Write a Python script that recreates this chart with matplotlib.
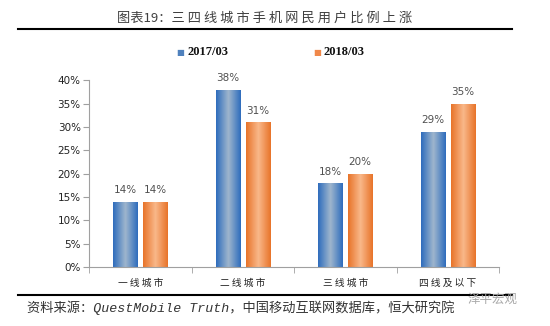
import numpy as np
import matplotlib
matplotlib.use('Agg')
import matplotlib.pyplot as plt
from matplotlib.colors import LinearSegmentedColormap

# dati
categorie = ['一 线 城 市', '二 线 城 市', '三 线 城 市', '四 线 及 以 下']
serie = ['2017/03', '2018/03']
val_2017 = [14, 38, 18, 29]
val_2018 = [14, 31, 20, 35]
yticks = [0, 5, 10, 15, 20, 25, 30, 35, 40]

titolo = '图表19：三 四 线 城 市 手 机 网 民 用 户 比 例 上 涨'
fonte = '资料来源：QuestMobile Truth，中国移动互联网数据库，恒大研究院'

plt.rcParams['font.family'] = ['Noto Sans CJK SC', 'DejaVu Sans']

fig = plt.figure(figsize=(5.5, 3.26), dpi=100)
W, H = 550, 326
ax = fig.add_axes([89 / W, 1 - 267 / H, 410 / W, (267 - 80.5) / H])

cmap_blu = LinearSegmentedColormap.from_list('blu', ['#2f6dbd', '#9fb6cd', '#2f6dbd'])
cmap_ara = LinearSegmentedColormap.from_list('ara', ['#e8742a', '#f9b88a', '#e8742a'])
grad = np.linspace(0, 1, 64).reshape(1, -1)

x = np.arange(len(categorie))
w = 0.235
off = 0.145
for vals, dx, cmap in [(val_2017, -off, cmap_blu), (val_2018, off, cmap_ara)]:
    bars = ax.bar(x + dx, vals, w, color='none', edgecolor='none', zorder=2)
    for b, v in zip(bars, vals):
        x0 = b.get_x()
        im = ax.imshow(grad, extent=[x0, x0 + w, 0, v], aspect='auto', cmap=cmap, zorder=2)
        im.set_clip_path(b)
        ax.text(x0 + w / 2, v + 1.4, f'{v}%', ha='center', va='bottom',
                fontsize=7.5, color='#505050', family='DejaVu Sans')

ax.set_xlim(-0.5, len(categorie) - 0.5)
ax.set_ylim(0, 40)
ax.set_yticks(yticks)
ax.set_yticklabels([f'{t}%' for t in yticks], fontsize=7.5, color='#222222', family='DejaVu Sans')
ax.set_xticks(np.arange(len(categorie) + 1) - 0.5, minor=True)
ax.set_xticks(x)
ax.set_xticklabels(categorie, fontsize=7, color='#222222')
ax.tick_params(axis='x', which='major', length=0, pad=8)
ax.tick_params(axis='x', which='minor', length=4, color='#a0a0a0', direction='out')
ax.tick_params(axis='y', length=4, color='#a0a0a0', direction='out', pad=2)
for s in ['top', 'right']:
    ax.spines[s].set_visible(False)
for s in ['left', 'bottom']:
    ax.spines[s].set_color('#a0a0a0')
    ax.spines[s].set_linewidth(0.8)

# titolo e linee
fig.text(265 / W, 1 - 18 / H, titolo, ha='center', va='center', fontsize=9.5, color='#404040')
fig.add_artist(plt.Line2D([18 / W, 512 / W], [1 - 29 / H, 1 - 29 / H], color='black', lw=1.5))
fig.add_artist(plt.Line2D([18 / W, 512 / W], [1 - 295 / H, 1 - 295 / H], color='black', lw=1.5))

# legenda
for xm, lab, col in [(180, serie[0], '#4f81bd'), (317, serie[1], '#f0884a')]:
    fig.text(xm / W, 1 - 52 / H, '■', ha='center', va='center', fontsize=6, color=col, family='DejaVu Sans')
    fig.text((xm + 7) / W, 1 - 52 / H, lab, ha='left', va='center', fontsize=9,
             fontweight='bold', family='Liberation Serif', color='#111111')

# fonte
fig.text(27 / W, 1 - 308 / H, fonte, ha='left', va='center', fontsize=9.5, style='italic',
         family=['Liberation Mono', 'Noto Sans CJK SC'], color='#333333')
fig.text(468 / W, 1 - 299 / H, '泽平宏观', ha='left', va='center', fontsize=9, color='#a8a8a8')

plt.savefig('out.png', dpi=100)
